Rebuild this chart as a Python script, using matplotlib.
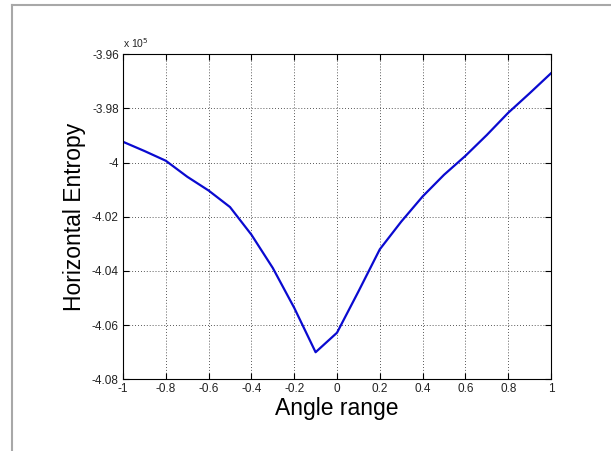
import matplotlib
matplotlib.use("Agg")
import matplotlib.pyplot as plt
from matplotlib.lines import Line2D
from matplotlib.ticker import FuncFormatter

plt.rcParams['font.family'] = ['Liberation Sans', 'DejaVu Sans']
plt.rcParams['axes.unicode_minus'] = False

# Data (y in units of 1e5, as shown on the axis)
angle = [-1.0, -0.9, -0.8, -0.7, -0.6, -0.5, -0.4, -0.3, -0.2, -0.1,
         0.0, 0.1, 0.2, 0.3, 0.4, 0.5, 0.6, 0.7, 0.8, 0.9, 1.0]
entropy = [-3.9923, -3.9957, -3.9993, -4.0052, -4.0103, -4.0164, -4.0266,
           -4.0389, -4.0536, -4.0700, -4.0628, -4.0476, -4.0320, -4.0218,
           -4.0125, -4.0045, -3.9975, -3.9898, -3.9816, -3.9744, -3.9670]
xticks = [-1, -0.8, -0.6, -0.4, -0.2, 0, 0.2, 0.4, 0.6, 0.8, 1]
yticks = [-4.08, -4.06, -4.04, -4.02, -4.00, -3.98, -3.96]

W, H = 611, 451
fig = plt.figure(figsize=(W / 100, H / 100), dpi=100)
fig.patch.set_facecolor('white')

left, right, top, bottom = 123, 551, 54.3, 379.3
ax = fig.add_axes([left / W, 1 - bottom / H, (right - left) / W, (bottom - top) / H])

ax.plot(angle, entropy, color='#0a0ad0', linewidth=1.6)

ax.set_xlim(-1, 1)
ax.set_ylim(-4.08, -3.96)
ax.set_xticks(xticks)
ax.set_yticks(yticks)
fmt = FuncFormatter(lambda v, p: ('%g' % round(v, 4)))
ax.xaxis.set_major_formatter(fmt)
ax.yaxis.set_major_formatter(fmt)

ax.grid(True, linestyle=(0, (1, 2.5)), color='#222222', linewidth=0.6)
ax.tick_params(direction='in', length=4, width=0.8, top=True, right=True,
               labelsize=8.5, pad=3, colors='black')
for lab in ax.get_xticklabels() + ax.get_yticklabels():
    lab.set_color('#222222')
for s in ax.spines.values():
    s.set_linewidth(0.8)
    s.set_color('black')

ax.set_xlabel('Angle range', fontsize=16.5, labelpad=1)
ax.set_ylabel('Horizontal Entropy', fontsize=16.5, labelpad=4)

ax.text(0.0, 1.012, 'x 10$^5$', transform=ax.transAxes, fontsize=7.5,
        ha='left', va='bottom', color='#222222')

# screenshot-like grey border (top and left)
fig.add_artist(Line2D([12 / W, 12 / W], [0, 1 - 5 / H], transform=fig.transFigure,
                      color='#a8a8a8', linewidth=1.5))
fig.add_artist(Line2D([12 / W, 1], [1 - 5 / H, 1 - 5 / H], transform=fig.transFigure,
                      color='#a8a8a8', linewidth=1.5))

fig.savefig('out.png', dpi=100, facecolor='white')
